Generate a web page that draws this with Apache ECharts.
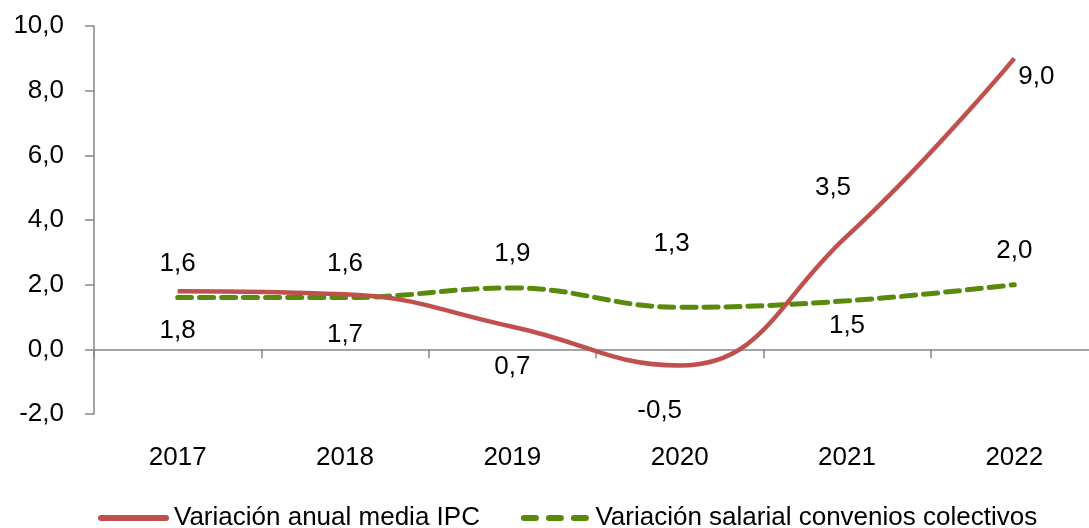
<!DOCTYPE html>
<html>
<head>
<meta charset="utf-8">
<script src="https://cdn.jsdelivr.net/npm/echarts@6/dist/echarts.min.js"></script>
<style>
  html, body { margin: 0; padding: 0; background: #fff; }
  #chart { width: 1089px; height: 528px; }
</style>
</head>
<body>
<div id="chart"></div>
<script>
var years = ['2017', '2018', '2019', '2020', '2021', '2022'];
var ipc = [1.8, 1.7, 0.7, -0.5, 3.5, 9.0];
var salarios = [1.6, 1.6, 1.9, 1.3, 1.5, 2.0];
var seriesNames = ['Variación anual media IPC', 'Variación salarial convenios colectivos'];

var FONT = 'Liberation Sans';
var RED = '#C0504D';
var GREEN = '#5A8A0C';
function fmt(v) { return v.toFixed(1).replace('.', ','); }

// where Excel put each data label (red mostly below, green mostly above)
function ipcLabel(i) {
  if (i === 5) return { position: 'right', distance: 4, offset: [0, 18] };
  if (i === 4) return { position: 'top', distance: 35, offset: [-14, 0] };
  if (i === 3) return { position: 'bottom', distance: 32, offset: [-20, 0] };
  return { position: 'bottom', distance: 27 };
}
function salLabel(i) {
  if (i === 4) return { position: 'bottom', distance: 12 };
  if (i === 3) return { position: 'top', distance: 50, offset: [-8, 0] };
  return { position: 'top', distance: 21 };
}

function build(values, labelFn) {
  return values.map(function (v, i) {
    return { value: v, label: labelFn(i) };
  });
}

var chart = echarts.init(document.getElementById('chart'));

var labelStyle = {
  show: true,
  fontSize: 26,
  color: '#000',
  fontFamily: FONT,
  formatter: function (p) { return fmt(p.value); }
};

var option = {
  animation: false,
  textStyle: { fontFamily: FONT },
  grid: { left: 94, right: -9, top: 26, bottom: 114, outerBoundsMode: 'none' },
  legend: {
    left: 93,
    top: 500,
    itemWidth: 71,
    itemHeight: 6,
    itemGap: 41,
    textStyle: { fontFamily: FONT, fontSize: 26, color: '#000' },
    data: [
      { name: seriesNames[0], icon: 'path://M3,0H68A3,3 0 0 1 68,6H3A3,3 0 0 1 3,0Z', itemStyle: { color: RED } },
      { name: seriesNames[1], icon: 'path://M3,0H15A3,3 0 0 1 15,6H3A3,3 0 0 1 3,0Z M28,0H40A3,3 0 0 1 40,6H28A3,3 0 0 1 28,0Z M53,0H65A3,3 0 0 1 65,6H53A3,3 0 0 1 53,0Z', itemStyle: { color: GREEN } }
    ]
  },
  xAxis: {
    type: 'category',
    data: years,
    boundaryGap: true,
    axisLine: { onZero: true, lineStyle: { color: '#868686', width: 1.5 } },
    axisTick: { show: true, length: 9, lineStyle: { color: '#868686', width: 1.5 } },
    axisLabel: { margin: 31, fontSize: 26, color: '#000', fontFamily: FONT },
    splitLine: { show: false }
  },
  yAxis: {
    type: 'value',
    min: -2,
    max: 10,
    interval: 2,
    axisLine: { show: true, lineStyle: { color: '#868686', width: 1.5 } },
    axisTick: { show: true, length: 9, lineStyle: { color: '#868686', width: 1.5 } },
    axisLabel: { margin: 30, fontSize: 26, color: '#000', fontFamily: FONT, formatter: fmt },
    splitLine: { show: false }
  },
  series: [
    {
      name: seriesNames[0],
      type: 'line',
      smooth: 0.45,
      symbol: 'circle',
      symbolSize: 0,
      showSymbol: true,
      data: build(ipc, ipcLabel),
      lineStyle: { color: RED, width: 4.5 },
      itemStyle: { color: RED },
      label: labelStyle,
      z: 3
    },
    {
      name: seriesNames[1],
      type: 'line',
      smooth: 0.4,
      symbol: 'circle',
      symbolSize: 0,
      showSymbol: true,
      data: build(salarios, salLabel),
      lineStyle: { color: GREEN, width: 5, type: [14, 8], cap: 'round' },
      itemStyle: { color: GREEN },
      label: labelStyle,
      z: 2
    }
  ]
};

chart.setOption(option);
</script>
</body>
</html>
